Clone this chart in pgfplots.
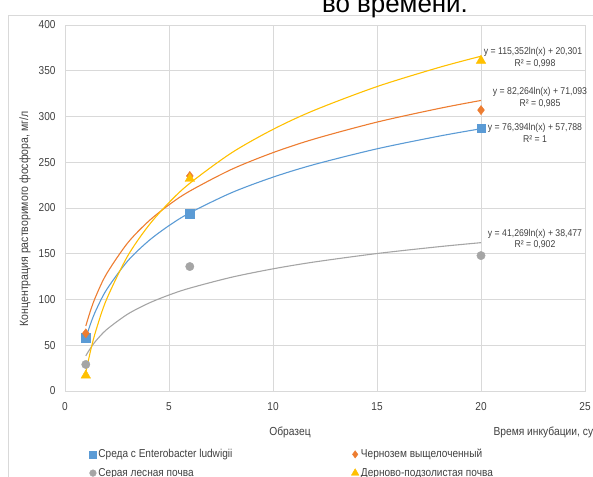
\documentclass[border=0pt]{standalone}
\usepackage{pgfplots}
\pgfplotsset{compat=1.18}
\usepackage{fontspec}
\setmainfont{Liberation Sans}
\newfontfamily\narrowfont{Liberation Sans}[FakeStretch=0.88]
\definecolor{cblue}{HTML}{5B9BD5}
\definecolor{corange}{HTML}{ED7D31}
\definecolor{cgray}{HTML}{A5A5A5}
\definecolor{cyellow}{HTML}{FFC000}
\definecolor{gridc}{HTML}{D9D9D9}
\definecolor{tickc}{HTML}{404040}
\begin{document}
\begin{tikzpicture}[x=1bp,y=1bp]
\draw[gridc] (8,-20) rectangle (640,462);
\node[font=\fontsize{26}{30}\selectfont, anchor=base, text=black] at (395,464) {во времени.};
\begin{axis}[
  at={(65bp,86bp)}, anchor=south west, scale only axis,
  width=520bp, height=366bp,
  xmin=0, xmax=25, ymin=0, ymax=400,
  xtick={0,5,...,25}, ytick={0,50,...,400},
  grid=major, grid style={draw=gridc, line width=0.8bp},
  axis line style={draw=gridc, line width=0.8bp},
  major tick length=0pt,
  tick label style={font=\narrowfont\fontsize{11.5}{13}\selectfont, text=tickc},
  yticklabel style={xshift=-6bp},
  xticklabel style={yshift=-8bp},
  /pgf/number format/assume math mode=true,
  legend columns=2,
  legend cell align=left,
  legend image code/.code={\draw[mark repeat=2,mark phase=2,#1] plot coordinates {(0bp,0bp) (3.7bp,0bp) (7.4bp,0bp)};},
  legend image post style={scale=0.8},
  legend style={draw=none, fill=none, at={(0.041,-0.148)}, anchor=north west,
    font=\narrowfont\fontsize{11.5}{13}\selectfont, text=tickc,
    /tikz/every even column/.append style={column sep=117bp},
    row sep=5bp},
]
\addplot[only marks, mark=square*, mark size=4.3bp, color=cblue] coordinates {(1,58) (6,194) (20,287)};
\addlegendentry{Среда с Enterobacter ludwigii}
\addplot[only marks, mark=diamond*, mark size=4.6bp, color=corange] coordinates {(1,63) (6,235) (20,307)};
\addlegendentry{Чернозем выщелоченный}
\addplot[only marks, mark=*, mark size=4.2bp, color=cgray] coordinates {(1,29) (6,136) (20,148)};
\addlegendentry{Серая лесная почва}
\addplot[only marks, mark=triangle*, mark size=5.5bp, color=cyellow] coordinates {(1,17) (6,232) (20,361)};
\addlegendentry{Дерново-подзолистая почва}
% trend lines (points read from the fitted curves shown)
\addplot[forget plot, smooth, no marks, color=cblue, line width=1.1bp] coordinates {
(1,57.79) (1.25,74.83) (1.5,88.77) (2,110.74) (3,141.72) (4,163.70) (5,180.74) (6,194.67) (8,216.65) (10,233.70) (12,247.62) (15,264.67) (18,278.60) (20,286.64)};
\addplot[forget plot, smooth, no marks, color=corange, line width=1.1bp] coordinates {
(1,71.09) (1.25,89.45) (1.5,104.45) (2,128.11) (3,161.47) (4,185.13) (5,203.49) (6,218.49) (8,242.15) (10,260.51) (12,275.51) (15,293.87) (18,308.87) (20,317.53)};
\addplot[forget plot, smooth, no marks, color=cgray, line width=1.1bp] coordinates {
(1,38.48) (1.25,47.69) (1.5,55.21) (2,67.08) (3,83.82) (4,95.69) (5,104.90) (6,112.42) (8,124.29) (10,133.50) (12,141.03) (15,150.24) (18,157.76) (20,162.11)};
\addplot[forget plot, smooth, no marks, color=cyellow, line width=1.1bp] coordinates {
(1,20.30) (1.25,46.04) (1.5,67.07) (2,100.25) (3,147.03) (4,180.21) (5,205.95) (6,226.99) (8,260.17) (10,285.91) (12,306.94) (15,332.69) (18,353.72) (20,365.86)};
\end{axis}
\node[rotate=90, font=\narrowfont\fontsize{12}{14}\selectfont, text=tickc] at (25,258) {Концентрация растворимого фосфора, мг/л};
\node[font=\narrowfont\fontsize{11.7}{13}\selectfont, text=tickc] at (290,45) {Образец};
\node[font=\narrowfont\fontsize{11.7}{13}\selectfont, text=tickc, anchor=west] at (490,45) {Время инкубации, сут};
\begin{scope}[every node/.style={font=\narrowfont\fontsize{9.9}{11}\selectfont, text=tickc}]
\node at (533,425) {y = 115,352ln(x) + 20,301};
\node at (535,413) {R² = 0,998};
\node at (540,385) {y = 82,264ln(x) + 71,093};
\node at (540,373) {R² = 0,985};
\node at (535,349) {y = 76,394ln(x) + 57,788};
\node at (535,338) {R² = 1};
\node at (535,243) {y = 41,269ln(x) + 38,477};
\node at (535,232) {R² = 0,902};
\end{scope}
\pgfresetboundingbox
\path[use as bounding box] (0,0) rectangle (593,477);
\end{tikzpicture}
\end{document}
